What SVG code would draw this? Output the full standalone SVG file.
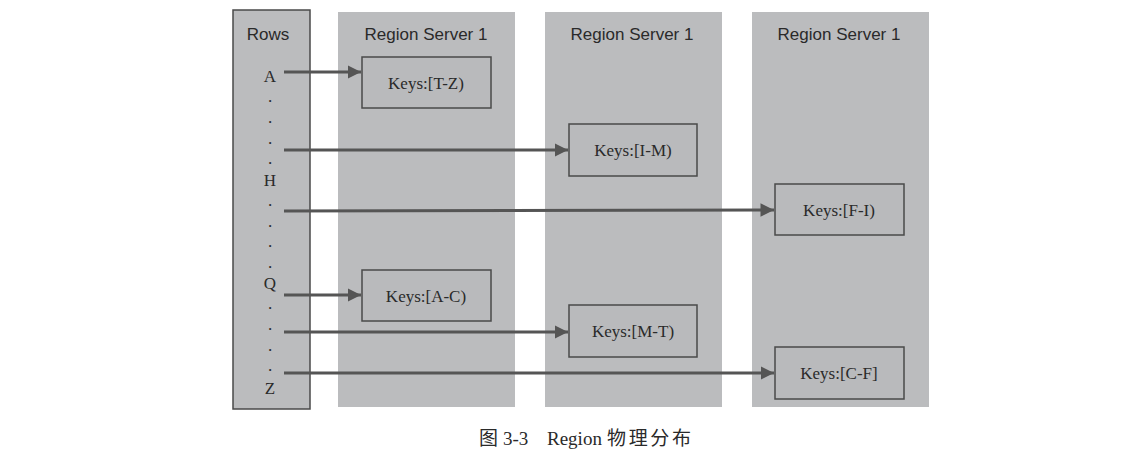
<svg xmlns="http://www.w3.org/2000/svg" width="1147" height="461" viewBox="0 0 1147 461">
<style>
.col{fill:#bbbcbe}
.box{fill:#b9babc;stroke:#4a4a4a;stroke-width:1.5}
.hd{font-family:"Liberation Sans",Arial,sans-serif;font-size:17px;fill:#2a2a2a;text-anchor:middle}
.kt{font-family:"Liberation Serif","Times New Roman",serif;font-size:17px;fill:#2a2a2a;text-anchor:middle}
.rt{font-family:"Liberation Serif","Times New Roman",serif;font-size:17px;fill:#2a2a2a;text-anchor:middle}
.ln{stroke:#555;stroke-width:3;fill:none;marker-end:url(#ah)}
.cap{font-family:"Liberation Serif","Noto Sans CJK SC",serif;font-size:19px;fill:#2a2a2a}
</style>
<defs>
<marker id="ah" viewBox="0 0 10 10" refX="10" refY="5" markerWidth="4.5" markerHeight="4.5" orient="auto" markerUnits="strokeWidth">
<path d="M0,0 L10,5 L0,10 z" fill="#555"/>
</marker>
</defs>
<rect width="1147" height="461" fill="#fff"/>
<g id="rows">
<rect x="233" y="10" width="77" height="399" fill="#bbbcbe" stroke="#4a4a4a" stroke-width="1.5"/>
<text class="hd" x="268" y="40">Rows</text>
<text class="rt" x="270" y="82">A</text>
<text class="rt" x="270" y="102">.</text>
<text class="rt" x="270" y="123">.</text>
<text class="rt" x="270" y="144">.</text>
<text class="rt" x="270" y="164">.</text>
<text class="rt" x="270" y="186">H</text>
<text class="rt" x="270" y="206">.</text>
<text class="rt" x="270" y="227">.</text>
<text class="rt" x="270" y="247">.</text>
<text class="rt" x="270" y="268">.</text>
<text class="rt" x="270" y="289">Q</text>
<text class="rt" x="270" y="309">.</text>
<text class="rt" x="270" y="330">.</text>
<text class="rt" x="270" y="351">.</text>
<text class="rt" x="270" y="371">.</text>
<text class="rt" x="270" y="394">Z</text>
</g>
<g id="server1">
<rect class="col" x="338" y="12" width="177" height="395"/>
<text class="hd" x="426" y="40">Region Server 1</text>
</g>
<g id="server2">
<rect class="col" x="545" y="12" width="177" height="395"/>
<text class="hd" x="632" y="40">Region Server 1</text>
</g>
<g id="server3">
<rect class="col" x="752" y="12" width="177" height="395"/>
<text class="hd" x="839" y="40">Region Server 1</text>
</g>
<g id="region-tz"><rect class="box" x="362" y="57" width="129" height="51"/><text class="kt" x="426" y="89">Keys:[T-Z)</text></g>
<g id="region-im"><rect class="box" x="569" y="124" width="128" height="52"/><text class="kt" x="633" y="156">Keys:[I-M)</text></g>
<g id="region-fi"><rect class="box" x="775" y="184" width="129" height="51"/><text class="kt" x="839" y="216">Keys:[F-I)</text></g>
<g id="region-ac"><rect class="box" x="362" y="270" width="129" height="51"/><text class="kt" x="426" y="302">Keys:[A-C)</text></g>
<g id="region-mt"><rect class="box" x="569" y="305" width="128" height="52"/><text class="kt" x="633" y="337">Keys:[M-T)</text></g>
<g id="region-cf"><rect class="box" x="775" y="347" width="129" height="52"/><text class="kt" x="839" y="379">Keys:[C-F]</text></g>
<g id="connectors">
<line class="ln" x1="284" y1="72" x2="361" y2="72"/>
<line class="ln" x1="284" y1="150" x2="568" y2="150"/>
<line class="ln" x1="284" y1="211" x2="774" y2="210"/>
<line class="ln" x1="284" y1="295" x2="361" y2="295"/>
<line class="ln" x1="284" y1="332" x2="568" y2="332"/>
<line class="ln" x1="284" y1="373" x2="774" y2="373"/>
</g>
<g id="caption">
<text class="cap" x="479" y="445">图</text>
<text class="cap" x="503" y="445">3-3</text>
<text class="cap" x="547" y="445">Region</text>
<text class="cap" x="607" y="445" textLength="84">物理分布</text>
</g>
</svg>
